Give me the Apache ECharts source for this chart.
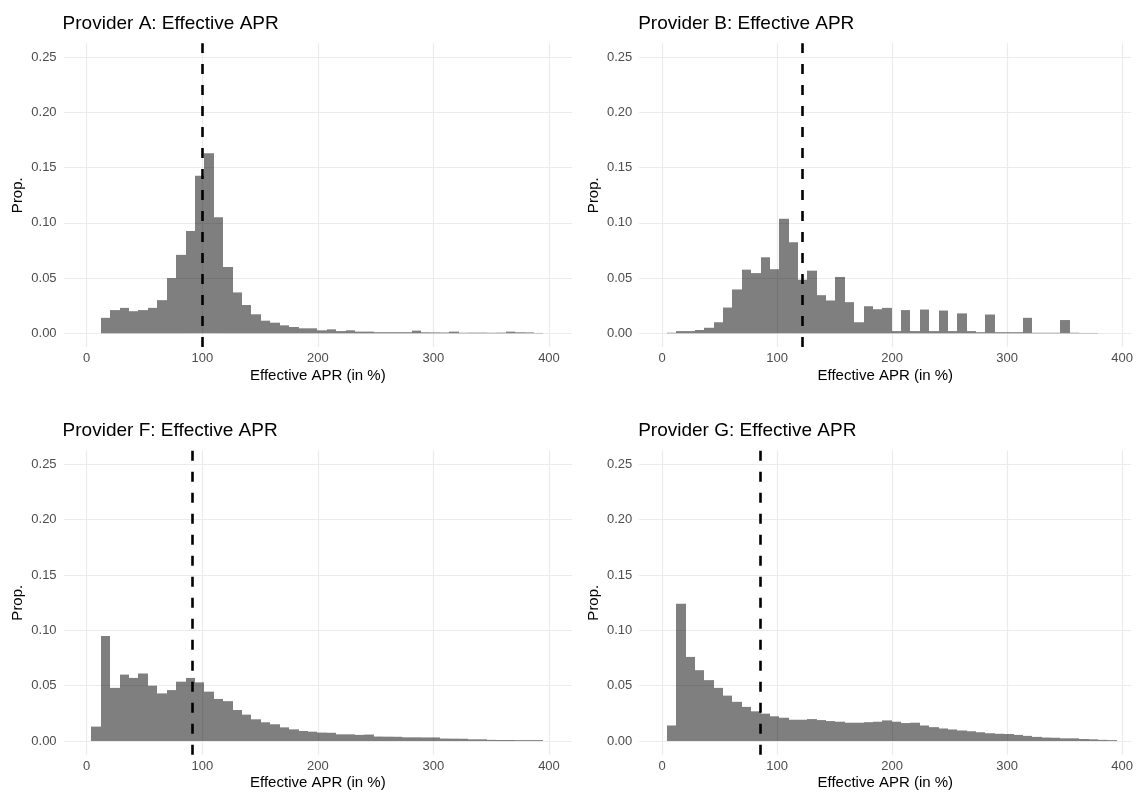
<!DOCTYPE html>
<html>
<head>
<meta charset="utf-8">
<script src="https://cdn.jsdelivr.net/npm/echarts@6/dist/echarts.min.js"></script>
<style>
	html, body { margin: 0; padding: 0; background: #fff; }
	#apr_hist { width: 1136px; height: 792px; }
</style>
</head>
<body>
<div id="apr_hist"></div>
<script>
// histogram bins (Effective APR, %) shared by all providers
var binStart = 4;
var binWidth = 8.15;

var providers = ['A', 'B', 'F', 'G'];
var meanApr = [100, 122, 91, 85];

var propA = [0, 0.014, 0.021, 0.023, 0.020, 0.021, 0.023, 0.030, 0.050, 0.071, 0.0925, 0.1425,
	0.163, 0.105, 0.060, 0.037, 0.0256, 0.0172, 0.0114, 0.0096, 0.0072, 0.0057, 0.0045, 0.0045,
	0.0027, 0.0036, 0.002, 0.0027, 0.0015, 0.0015, 0.001, 0.001, 0.001, 0.001, 0.0024, 0.0009,
	0.0008, 0.0007, 0.0015, 0.0005, 0.0006, 0.0006, 0.0005, 0.0006, 0.0015, 0.0009, 0.0008, 0.0003];
var propB = [0.0005, 0.002, 0.002, 0.003, 0.005, 0.010, 0.0233, 0.0397, 0.0576, 0.0545, 0.0688, 0.058,
	0.1036, 0.0824, 0.0485, 0.0567, 0.0345, 0.0297, 0.051, 0.0282, 0.010, 0.0245, 0.0218, 0.023,
	0.002, 0.021, 0.002, 0.0215, 0.002, 0.0206, 0.002, 0.018, 0.002, 0.001, 0.017, 0.001,
	0.001, 0.001, 0.014, 0.0005, 0.0005, 0.0005, 0.012, 0.0005, 0.0003, 0.0003, 0, 0];
var propF = [0.013, 0.095, 0.048, 0.060, 0.057, 0.061, 0.050, 0.043, 0.046, 0.0536, 0.057, 0.053,
	0.0446, 0.038, 0.036, 0.028, 0.0238, 0.0196, 0.0169, 0.0151, 0.0123, 0.0105, 0.009, 0.0084,
	0.0076, 0.0074, 0.006, 0.006, 0.0055, 0.0058, 0.004, 0.0039, 0.0038, 0.0033, 0.0033, 0.0032,
	0.0032, 0.0022, 0.0021, 0.002, 0.0015, 0.0015, 0.001, 0.0009, 0.0009, 0.0008, 0.0008, 0.0008];
var propG = [0.014, 0.124, 0.076, 0.064, 0.055, 0.048, 0.041, 0.0354, 0.0308, 0.0268, 0.0247, 0.0223,
	0.021, 0.0192, 0.0192, 0.0198, 0.0189, 0.018, 0.0174, 0.0165, 0.0165, 0.017, 0.0174, 0.0186,
	0.0174, 0.0162, 0.0165, 0.014, 0.0125, 0.0113, 0.0104, 0.0095, 0.0088, 0.0079, 0.007, 0.0065,
	0.0063, 0.0055, 0.0046, 0.0037, 0.0031, 0.0029, 0.0024, 0.0024, 0.0018, 0.0015, 0.001, 0.0008];
var props = [propA, propB, propF, propG];

var xTicks = [0, 100, 200, 300, 400];
var yTicks = [0, 0.05, 0.10, 0.15, 0.20, 0.25];

function aprConfig() {

	var self = this;
	var font = '"Liberation Sans", Arial, sans-serif';

	// panel boxes: [left, top, width, height, x max]
	var panels = [
		[63.6, 43.3, 508.5, 303.8, 420],
		[639.2, 43.3, 495.2, 303.8, 408],
		[63.6, 450.6, 508.5, 304.2, 420],
		[639.2, 450.6, 495.2, 304.2, 408]
	];

	this.renderBin = function(params, api) {
		var lo = api.coord([api.value(0), api.value(2)]);
		var hi = api.coord([api.value(1), 0]);
		var x0 = Math.round(lo[0]);
		var x1 = Math.round(hi[0]);
		return {
			type: 'rect',
			shape: { x: x0, y: lo[1], width: x1 - x0, height: hi[1] - lo[1] },
			style: { fill: 'rgba(0,0,0,0.5)' }
		};
	};

	this.init = function() {

		var myChart = echarts.init(document.getElementById('apr_hist'));
		var grid = [], xAxis = [], yAxis = [], title = [], series = [];

		for (var i = 0; i < providers.length; i++) {
			var p = panels[i];
			grid.push({ left: p[0], top: p[1], width: p[2], height: p[3] });
			title.push({
				text: 'Provider ' + providers[i] + ': Effective APR',
				left: p[0] - 1,
				top: p[1] - 29,
				padding: 0,
				textStyle: { fontFamily: font, fontSize: 19, fontWeight: 'normal', color: '#000' }
			});
			xAxis.push({
				type: 'value',
				gridIndex: i,
				min: -20,
				max: p[4],
				name: 'Effective APR (in %)',
				nameLocation: 'middle',
				nameGap: 21,
				nameTextStyle: { fontFamily: font, fontSize: 15, color: '#000' },
				axisLine: { show: false, onZero: false },
				axisTick: { show: false, customValues: xTicks },
				axisLabel: { customValues: xTicks, margin: 5, fontFamily: font, fontSize: 13, color: '#4d4d4d' },
				splitLine: { show: true, lineStyle: { color: '#ebebeb', width: 1.2 } }
			});
			yAxis.push({
				type: 'value',
				gridIndex: i,
				min: -0.0125,
				max: 0.2625,
				name: 'Prop.',
				nameLocation: 'middle',
				nameGap: 38,
				nameTextStyle: { fontFamily: font, fontSize: 15, color: '#000' },
				axisLine: { show: false, onZero: false },
				axisTick: { show: false, customValues: yTicks },
				axisLabel: {
					customValues: yTicks,
					margin: 7,
					fontFamily: font,
					fontSize: 13,
					color: '#4d4d4d',
					formatter: function(v) { return v.toFixed(2); }
				},
				splitLine: { show: true, lineStyle: { color: '#ebebeb', width: 1.2 } }
			});

			var bins = props[i].map(function(v, k) {
				return [binStart + k * binWidth, binStart + (k + 1) * binWidth, v];
			});
			series.push({
				type: 'custom',
				xAxisIndex: i,
				yAxisIndex: i,
				renderItem: self.renderBin,
				encode: { x: [0, 1], y: 2 },
				data: bins,
				silent: true
			});
			// mean APR
			series.push({
				type: 'line',
				xAxisIndex: i,
				yAxisIndex: i,
				data: [],
				z: 5,
				markLine: {
					silent: true,
					symbol: 'none',
					label: { show: false },
					lineStyle: { color: '#000', width: 2.6, type: [10, 11] },
					data: [{ xAxis: meanApr[i] }]
				}
			});
		}

		var option = {
			backgroundColor: '#fff',
			animation: false,
			title: title,
			grid: grid,
			xAxis: xAxis,
			yAxis: yAxis,
			series: series
		};
		window.onresize = myChart.resize;
		myChart.setOption(option);
	};

	self.init();

}

new aprConfig();
</script>
</body>
</html>
